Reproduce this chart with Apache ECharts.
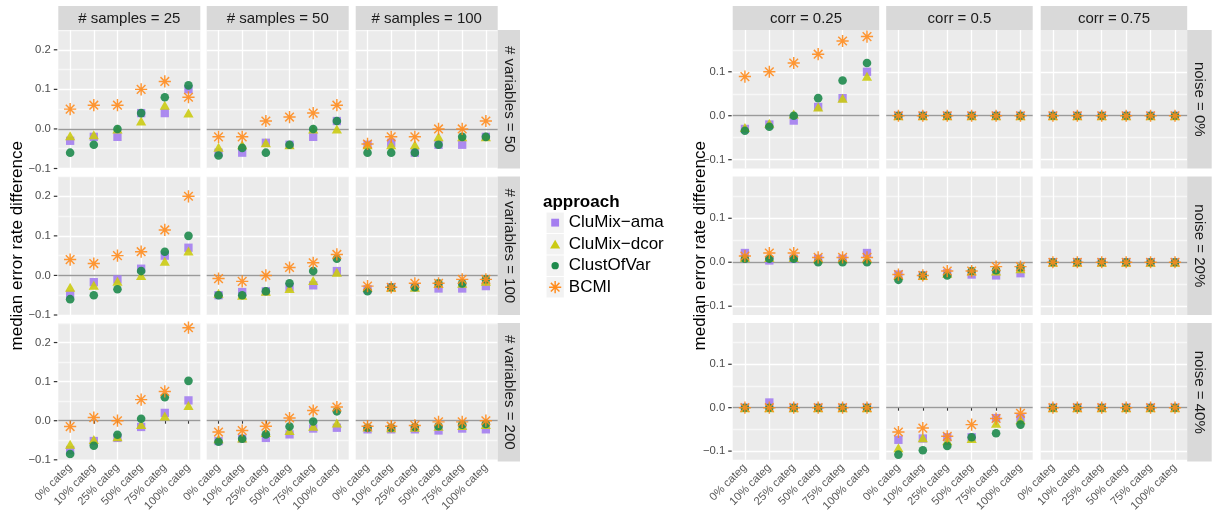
<!DOCTYPE html>
<html><head><meta charset="utf-8">
<script src="https://cdn.jsdelivr.net/npm/echarts@6/dist/echarts.min.js"></script>
<style>html,body{margin:0;padding:0;background:#fff}#c{width:1217px;height:514px}</style>
</head><body><div id="c"></div><script>
// ---------- data ----------
const categories = ['0% categ', '10% categ', '25% categ', '50% categ', '75% categ', '100% categ'];
const approaches = ['CluMix\u2212ama', 'CluMix\u2212dcor', 'ClustOfVar', 'BCMI'];
const leftColLabels = ['# samples = 25', '# samples = 50', '# samples = 100'];
const leftRowLabels = ['# variables = 50', '# variables = 100', '# variables = 200'];
const rightColLabels = ['corr = 0.25', 'corr = 0.5', 'corr = 0.75'];
const rightRowLabels = ['noise = 0%', 'noise = 20%', 'noise = 40%'];
const leftTicks = [-0.1, 0.0, 0.1, 0.2];
const rightTicks = [-0.1, 0.0, 0.1];
const zeroRef = 0;

// left block: [row = #variables][col = #samples][category]
const leftAma = [
  [[-0.03, -0.02, -0.02, 0.04, 0.04, 0.10], [-0.06, -0.06, -0.035, -0.04, -0.02, 0.02], [-0.04, -0.035, -0.06, -0.04, -0.04, -0.02]],
  [[-0.048, -0.017, -0.01, 0.017, 0.05, 0.07], [-0.05, -0.042, -0.04, -0.03, -0.025, 0.011], [-0.035, -0.03, -0.03, -0.033, -0.033, -0.027]],
  [[-0.075, -0.052, -0.044, -0.016, 0.02, 0.052], [-0.052, -0.046, -0.044, -0.035, -0.02, -0.018], [-0.022, -0.022, -0.022, -0.025, -0.02, -0.022]]
];
const leftDcor = [
  [[-0.017, -0.015, 0.0, 0.02, 0.06, 0.04], [-0.046, -0.04, -0.035, -0.04, 0.0, 0.0], [-0.04, -0.04, -0.04, -0.02, -0.02, -0.02]],
  [[-0.03, -0.025, -0.015, 0.0, 0.036, 0.062], [-0.045, -0.05, -0.04, -0.033, -0.013, 0.008], [-0.03, -0.03, -0.03, -0.02, -0.02, -0.015]],
  [[-0.06, -0.048, -0.041, -0.01, 0.012, 0.039], [-0.046, -0.044, -0.03, -0.025, -0.014, -0.006], [-0.016, -0.018, -0.017, -0.014, -0.012, -0.01]]
];
const leftClust = [
  [[-0.06, -0.04, 0.0, 0.04, 0.08, 0.11], [-0.067, -0.048, -0.06, -0.04, 0.0, 0.02], [-0.06, -0.06, -0.06, -0.04, -0.02, -0.02]],
  [[-0.06, -0.05, -0.035, 0.011, 0.06, 0.10], [-0.05, -0.05, -0.04, -0.02, 0.011, 0.042], [-0.04, -0.03, -0.03, -0.02, -0.02, -0.01]],
  [[-0.085, -0.064, -0.036, 0.005, 0.06, 0.102], [-0.054, -0.046, -0.035, -0.015, -0.002, 0.024], [-0.018, -0.018, -0.016, -0.014, -0.01, -0.008]]
];
const leftBcmi = [
  [[0.05, 0.06, 0.06, 0.10, 0.12, 0.08], [-0.02, -0.02, 0.02, 0.03, 0.04, 0.06], [-0.038, -0.02, -0.02, 0.0, 0.0, 0.02]],
  [[0.04, 0.03, 0.05, 0.06, 0.115, 0.20], [-0.008, -0.015, 0.0, 0.02, 0.032, 0.053], [-0.027, -0.03, -0.02, -0.02, -0.01, -0.01]],
  [[-0.015, 0.008, 0.0, 0.054, 0.075, 0.238], [-0.029, -0.025, -0.014, 0.007, 0.026, 0.035], [-0.014, -0.014, -0.012, -0.003, -0.003, 0.0]]
];

// right block: [row = noise][col = corr][category]
const rightAma = [
  [[-0.03, -0.02, -0.011, 0.02, 0.04, 0.10], [0, 0, 0, 0, 0, 0], [0, 0, 0, 0, 0, 0]],
  [[0.021, 0.004, 0.008, 0.008, 0.008, 0.021], [-0.028, -0.03, -0.025, -0.028, -0.03, -0.025], [0, 0, 0, 0, 0, 0]],
  [[0, 0.012, 0, 0, 0, 0], [-0.074, -0.071, -0.068, -0.068, -0.024, -0.024], [0, 0, 0, 0, 0, 0]]
];
const rightDcor = [
  [[-0.027, -0.017, 0.004, 0.02, 0.04, 0.09], [0, 0, 0, 0, 0, 0], [0, 0, 0, 0, 0, 0]],
  [[0.011, 0.011, 0.011, 0.008, 0.008, 0.008], [-0.03, -0.03, -0.025, -0.02, -0.02, -0.015], [0, 0, 0, 0, 0, 0]],
  [[0, 0, 0, 0, 0, 0], [-0.092, -0.069, -0.076, -0.071, -0.036, -0.028], [0, 0, 0, 0, 0, 0]]
];
const rightClust = [
  [[-0.034, -0.025, 0.0, 0.04, 0.08, 0.12], [0, 0, 0, 0, 0, 0], [0, 0, 0, 0, 0, 0]],
  [[0.008, 0.008, 0.008, 0.0, 0.0, 0.0], [-0.04, -0.03, -0.03, -0.02, -0.018, -0.012], [0, 0, 0, 0, 0, 0]],
  [[0, 0, 0, 0, 0, 0], [-0.108, -0.098, -0.088, -0.068, -0.059, -0.039], [0, 0, 0, 0, 0, 0]]
];
const rightBcmi = [
  [[0.089, 0.10, 0.12, 0.14, 0.17, 0.18], [0, 0, 0, 0, 0, 0], [0, 0, 0, 0, 0, 0]],
  [[0.014, 0.021, 0.021, 0.011, 0.011, 0.011], [-0.028, -0.03, -0.02, -0.02, -0.01, -0.01], [0, 0, 0, 0, 0, 0]],
  [[0, 0, 0, 0, 0, 0], [-0.056, -0.047, -0.066, -0.039, -0.025, -0.013], [0, 0, 0, 0, 0, 0]]
];

// ---------- styling / layout ----------
const COLORS = ['#A47EF0', '#CBCB12', '#1E8A4C', '#FF8C1E'];
function starPath(o, s) { // asterisk (8 spokes) inside a 20*s box offset by o
  const p = pts => 'M' + pts.map(q => (o + q[0] * s).toFixed(2) + ' ' + (o + q[1] * s).toFixed(2)).join('L') + 'Z';
  return p([[0, 8.8], [20, 8.8], [20, 11.2], [0, 11.2]]) +
    p([[8.8, 0], [11.2, 0], [11.2, 20], [8.8, 20]]) +
    p([[3.78, 2.08], [17.92, 16.22], [16.22, 17.92], [2.08, 3.78]]) +
    p([[16.22, 2.08], [17.92, 3.78], [3.78, 17.92], [2.08, 16.22]]);
}
const STAR = 'path://' + starPath(0, 1);
const SYMBOLS = ['rect', 'triangle', 'circle', STAR];
const SIZES = [8.3, [10.2, 9], 8.6, 12.2];
const BOX = 'M0 0L0 0M30 30L30 30';
const LEGEND_ICONS = [
  'path://' + BOX + 'M8.2 8.2L21.8 8.2L21.8 21.8L8.2 21.8Z',
  'path://' + BOX + 'M15 7.2L23.8 22.6L6.2 22.6Z',
  'path://' + BOX + 'M8.6 15A6.4 6.4 0 1 0 21.4 15A6.4 6.4 0 1 0 8.6 15Z',
  'path://' + BOX + starPath(4.5, 1.05)
];

const L_X = [58.3, 206.7, 355.7], L_W = 142;
const R_X = [732.7, 886.2, 1040.7], R_W = 146.5;
const ROW_Y = [30, 176.5, 323], ROW_H = 138.5;
const STRIP_TOP = 6, STRIP_H = 24;

const blocks = [
  {xs: L_X, w: L_W, cols: leftColLabels, rows: leftRowLabels, data: [leftAma, leftDcor, leftClust, leftBcmi],
   ymin: -0.1, ymax: 0.25, step: 0.05, ticks: leftTicks,
   lineColors: ['#ffffff', 'rgba(255,255,255,0.6)'], stripX: 497.7, stripW: 22.3, titleX: 17},
  {xs: R_X, w: R_W, cols: rightColLabels, rows: rightRowLabels, data: [rightAma, rightDcor, rightClust, rightBcmi],
   ymin: -0.12, ymax: 0.195, step: 0.005, ticks: rightTicks,
   lineColors: Array.from({length: 20}, (_, i) => i === 4 ? '#ffffff' : (i === 14 ? 'rgba(255,255,255,0.6)' : 'rgba(0,0,0,0)')),
   stripX: 1187.2, stripW: 24.5, titleX: 700}
];

function fmtTick(ticks) {
  return function (v) {
    const hit = ticks.find(t => Math.abs(t - v) < 1e-7);
    if (hit === undefined) return '';
    const s = (hit < 0 ? '\u2212' : '') + Math.abs(hit).toFixed(1);
    return '{l|' + s + '}{g|}{t|}';
  };
}

const grids = [], xAxes = [], yAxes = [], series = [], graphics = [];
blocks.forEach(b => {
  for (let r = 0; r < 3; r++) {
    for (let c = 0; c < 3; c++) {
      const g = grids.length;
      grids.push({left: b.xs[c], top: ROW_Y[r], width: b.w, height: ROW_H, show: true,
        backgroundColor: '#EBEBEB', borderWidth: 0, containLabel: false});
      xAxes.push({type: 'category', gridIndex: g, data: categories, boundaryGap: true,
        axisLine: {show: false},
        axisTick: {show: r === 2, alignWithLabel: true, length: 3, lineStyle: {color: '#333333', width: 1.1}},
        axisLabel: {show: r === 2, interval: 0, rotate: 45, margin: 6, fontSize: 11.3, color: '#595959', fontFamily: 'Liberation Sans'},
        splitLine: {show: true, alignWithLabel: true, lineStyle: {color: '#ffffff', width: 1.3}}});
      yAxes.push({type: 'value', gridIndex: g, min: b.ymin, max: b.ymax, interval: b.step,
        axisLine: {show: false}, axisTick: {show: false},
        axisLabel: {show: c === 0, margin: 1, formatter: fmtTick(b.ticks),
          rich: {l: {fontSize: 11.3, color: '#4D4D4D', fontFamily: 'Liberation Sans'}, g: {width: 3}, t: {width: 3.5, height: 1.2, backgroundColor: '#333333'}}},
        splitLine: {show: true, lineStyle: {color: b.lineColors, width: 1.3}}});
      for (let k = 0; k < 4; k++) {
        const s = {type: 'scatter', name: approaches[k], xAxisIndex: g, yAxisIndex: g,
          data: b.data[k][r][c], symbol: SYMBOLS[k], symbolSize: SIZES[k],
          itemStyle: {color: COLORS[k], opacity: 0.9}, emphasis: {disabled: true}, silent: true, z: 2};
        if (k === 0) {
          s.markLine = {silent: true, symbol: 'none', z: 1, animation: false, label: {show: false},
            lineStyle: {color: '#9A9A9A', width: 1.3, type: 'solid'}, emphasis: {disabled: true}, data: [{yAxis: zeroRef}]};
        }
        series.push(s);
      }
    }
  }
  // top strips
  for (let c = 0; c < 3; c++) {
    graphics.push({type: 'rect', shape: {x: b.xs[c], y: STRIP_TOP, width: b.w, height: STRIP_H}, style: {fill: '#D9D9D9'}, z: 1});
    graphics.push({type: 'text', x: b.xs[c] + b.w / 2, y: STRIP_TOP + STRIP_H / 2 + 0.5, z: 2,
      style: {text: b.cols[c], font: '15px "Liberation Sans"', fill: '#1A1A1A', align: 'center', verticalAlign: 'middle', textAlign: 'center', textVerticalAlign: 'middle'}});
  }
  // right strips
  for (let r = 0; r < 3; r++) {
    graphics.push({type: 'rect', shape: {x: b.stripX, y: ROW_Y[r], width: b.stripW, height: ROW_H}, style: {fill: '#D9D9D9'}, z: 1});
    graphics.push({type: 'text', x: b.stripX + b.stripW / 2, y: ROW_Y[r] + ROW_H / 2, rotation: -Math.PI / 2, z: 2,
      style: {text: b.rows[r], font: '15px "Liberation Sans"', fill: '#1A1A1A', align: 'center', verticalAlign: 'middle', textAlign: 'center', textVerticalAlign: 'middle'}});
  }
  // y-axis title
  graphics.push({type: 'text', x: b.titleX, y: (ROW_Y[0] + ROW_Y[2] + ROW_H) / 2, rotation: Math.PI / 2, z: 2,
    style: {text: 'median error rate difference', font: '17px "Liberation Sans"', fill: '#000000', align: 'center', verticalAlign: 'middle', textAlign: 'center', textVerticalAlign: 'middle'}});
});

// legend title + key boxes
graphics.push({type: 'text', x: 543, y: 202, z: 2,
  style: {text: 'approach', font: 'bold 17px "Liberation Sans"', fill: '#000000', align: 'left', verticalAlign: 'middle', textAlign: 'left', textVerticalAlign: 'middle'}});
for (let k = 0; k < 4; k++) {
  graphics.push({type: 'rect', shape: {x: 546.5, y: 212.5 + k * 21.5, width: 17.3, height: 20.5}, style: {fill: '#F2F2F2'}, z: 1});
}

const chart = echarts.init(document.getElementById('c'), null, {renderer: 'canvas'});
chart.setOption({
  animation: false,
  backgroundColor: '#ffffff',
  textStyle: {fontFamily: 'Liberation Sans'},
  grid: grids, xAxis: xAxes, yAxis: yAxes, series: series,
  legend: {orient: 'vertical', left: 546.5, top: 214, padding: 0, itemWidth: 17.3, itemHeight: 17.3, itemGap: 4.2,
    selectedMode: false, z: 5,
    textStyle: {fontSize: 17, color: '#000000', fontFamily: 'Liberation Sans'},
    data: approaches.map((n, i) => ({name: n, icon: LEGEND_ICONS[i], itemStyle: {color: COLORS[i], opacity: 1}}))},
  graphic: {elements: graphics}
});
</script></body></html>
